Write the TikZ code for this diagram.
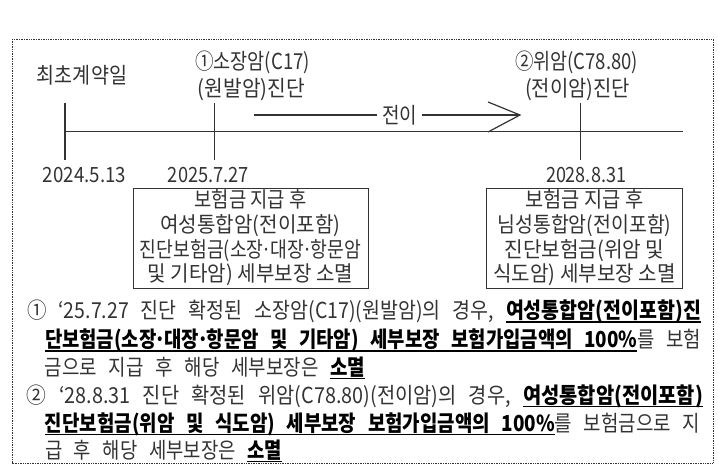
\documentclass[tikz,border=0pt]{standalone}
\usepackage{graphicx}
\usepackage{fontspec}
\setmainfont{Noto Sans CJK KR}
\newfontfamily\fa[FakeStretch=0.85]{Noto Sans CJK KR}
\newfontfamily\fb[FakeStretch=0.76]{Noto Sans CJK KR}
\newfontfamily\fc[FakeStretch=0.68]{Noto Sans CJK KR}
\newcommand\fit[2]{\resizebox{#1}{\height}{#2}}
\newcommand\bl[2]{\spaceskip=0.42em\relax\resizebox{#1}{\height}{#2}}
\newcommand\md{\makebox[0.28em]{·}}
\newcommand\ulw[1]{\setbox0\hbox{#1}\rlap{\rule[-3.8pt]{\wd0}{1.3pt}}\box0}
\newcommand\uls{\leaders\hrule height -2.5pt depth 3.8pt\hskip0.42em\relax}
\def\bu#1{{\bfseries\color{black}\buA#1 \buEnd}}
\def\buA#1 #2\buEnd{\ulw{#1}\ifx\relax#2\relax\else\uls\buA#2\buEnd\fi}
\definecolor{ink}{HTML}{333333}
\begin{document}
\begin{tikzpicture}[x=1pt,y=-1pt,
  every node/.style={inner sep=0pt,outer sep=0pt,text=ink},
  lbl/.style={font=\fa\fontsize{22}{24}\selectfont},
  datelbl/.style={font=\fa\fontsize{21}{24}\selectfont},
  infobox/.style={draw=ink,line width=0.9pt,minimum width=#1,minimum height=100pt,align=center,
     font=\fb\fontsize{21.5}{24.6}\selectfont},
  bline/.style={anchor=base west,font=\fc\fontsize{22}{24}\selectfont},
  tick/.style={draw=ink,line width=1pt}]
\useasboundingbox (0,0) rectangle (718,465);
% frame
\draw[ink,line width=0.8pt,dash pattern=on 0.8pt off 0.9pt] (12,39) rectangle (713,463);
% timeline
\coordinate (t0) at (65,132);
\coordinate (t1) at (683,132);
\draw[ink,line width=1pt] (t0) -- (t1);
\coordinate (a1) at (65,103); \coordinate (a2) at (65,160);
\coordinate (b1) at (214,103); \coordinate (b2) at (214,160);
\coordinate (c1) at (580,103); \coordinate (c2) at (580,160);
\draw[ink,line width=1.7pt] (a1) -- (a2);
\draw[tick] (b1) -- (b2);
\draw[tick] (c1) -- (c2);
% labels
\node[lbl] (l0) at (82,75) {\fit{90pt}{최초계약일}};
\node[lbl] (l1a) at (252.5,62) {\fit{115pt}{①소장암(C17)}};
\node[lbl] (l1b) at (251.5,90) {\fit{107pt}{(원발암)진단}};
\node[lbl] (l2a) at (576.5,62) {\fit{123pt}{②위암(C78.80)}};
\node[lbl] (l2b) at (577.5,90) {\fit{105pt}{(전이암)진단}};
\node[datelbl] (d0) at (84.5,175) {\fit{83pt}{2024.5.13}};
\node[datelbl] (d1) at (208.5,175) {\fit{81pt}{2025.7.27}};
\node[datelbl] (d2) at (586,175) {\fit{80pt}{2028.8.31}};
% metastasis arrow
\node[lbl,inner xsep=5pt] (mid) at (399.5,115) {\fit{35pt}{전이}};
\coordinate (s) at (254,115);
\coordinate (tip) at (520,115);
\coordinate (hu) at (488,102);
\coordinate (hl) at (488,132);
\draw[ink,line width=2pt] (s) -- (mid.west);
\draw[ink,line width=2pt] (mid.east) -- (tip);
\draw[ink,line width=1.2pt,line join=miter] (hu) -- (tip) -- (hl);
% boxes
\node[infobox=235pt] (box1) at (250.5,238) {\fit{112pt}{보험금 지급 후}\\\fit{180pt}{여성통합암(전이포함)}\\\fit{221pt}{진단보험금(소장\md 대장\md 항문암}\\\fit{205pt}{및 기타암) 세부보장 소멸}};
\node[infobox=196pt] (box2) at (584.5,238) {\fit{118pt}{보험금 지급 후}\\\fit{174pt}{님성통합암(전이포함)}\\\fit{160pt}{진단보험금(위암 및}\\\fit{182pt}{식도암) 세부보장 소멸}};
% bottom text
\node[bline] (p1) at (27,319) {\bl{674pt}{① ‘25.7.27 진단 확정된 소장암(C17)(원발암)의 경우, \bu{여성통합암(전이포함)진}}};
\node[bline] (p2) at (45,348) {\bl{656pt}{\bu{단보험금(소장\md 대장\md 항문암 및 기타암) 세부보장 보험가입금액의 100\%}를 보험}};
\node[bline] (p3) at (45,375) {\bl{320pt}{금으로 지급 후 해당 세부보장은 \bu{소멸}}};
\node[bline] (p4) at (27,403) {\bl{676pt}{② ‘28.8.31 진단 확정된 위암(C78.80)(전이암)의 경우, \bu{여성통합암(전이포함)}}};
\node[bline] (p5) at (45,431) {\bl{655pt}{\bu{진단보험금(위암 및 식도암) 세부보장 보험가입금액의 100\%}를 보험금으로 지}};
\node[bline] (p6) at (45,458) {\bl{237pt}{급 후 해당 세부보장은 \bu{소멸}}};
\end{tikzpicture}
\end{document}
